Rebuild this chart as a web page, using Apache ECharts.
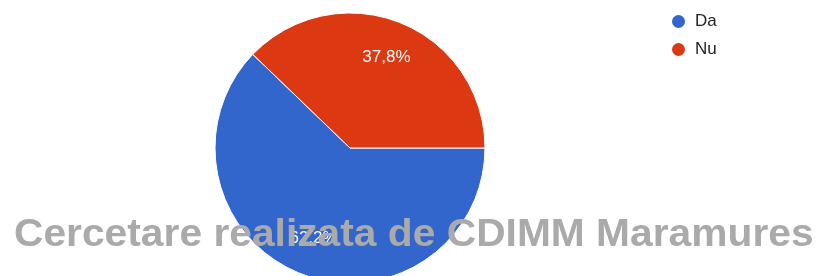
<!DOCTYPE html>
<html>
<head>
<meta charset="utf-8">
<script src="https://cdn.jsdelivr.net/npm/echarts@6/dist/echarts.min.js"></script>
<style>
  html, body { margin: 0; padding: 0; background: #fff; }
  #chart { width: 821px; height: 276px; }
</style>
</head>
<body>
<div id="chart"></div>
<script>
const categories = ['Da', 'Nu']
const values = [62.2, 37.8]
const colors = ['#3366cc', '#dc3912']
const watermark = 'Cercetare realizata de CDIMM Maramures'

const total = values.reduce((a, b) => a + b, 0)
const pieData = categories.map((name, i) => ({ name, value: values[i] }))

const chart = echarts.init(document.getElementById('chart'))
chart.setOption({
  animation: false,
  color: colors,
  legend: {
    orient: 'vertical',
    left: 670,
    top: 13,
    padding: 0,
    icon: 'circle',
    itemWidth: 15,
    itemHeight: 15,
    itemGap: 11,
    textStyle: {
      color: '#222',
      fontSize: 17,
      fontFamily: 'Liberation Sans',
      padding: [0, 0, 0, 4]
    },
    data: categories
  },
  series: [
    {
      type: 'pie',
      center: [350, 148],
      radius: [0, 135],
      startAngle: 0,
      clockwise: true,
      data: pieData,
      label: { show: false },
      labelLine: { show: false },
      itemStyle: {
        borderColor: '#fff',
        borderWidth: 1
      }
    },
    {
      // transparent ring only to place the percent labels at ~70% radius
      type: 'pie',
      center: [350, 148],
      radius: [54, 135],
      startAngle: 0,
      silent: true,
      legendHoverLink: false,
      data: pieData,
      itemStyle: { color: 'transparent' },
      labelLine: { show: false },
      label: {
        show: true,
        position: 'inside',
        color: '#fff',
        fontSize: 17,
        fontFamily: 'Liberation Sans',
        formatter: p => (p.value / total * 100).toFixed(1).replace('.', ',') + '%'
      }
    }
  ],
  graphic: [
    {
      type: 'text',
      x: 14,
      y: 216,
      scaleX: 1.045,
      z: 100,
      style: {
        text: watermark,
        fill: '#aaaaaa',
        fontSize: 39,
        fontWeight: 'bold',
        fontFamily: 'Liberation Sans'
      }
    }
  ]
})
</script>
</body>
</html>
